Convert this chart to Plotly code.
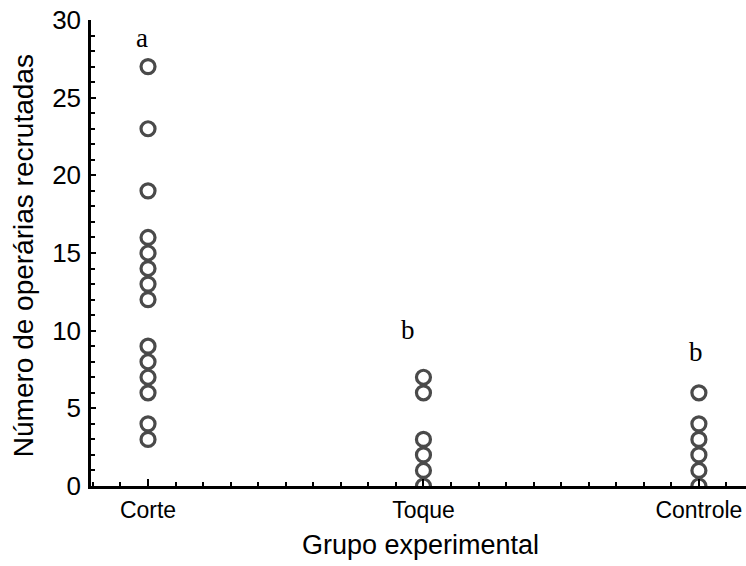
import plotly.graph_objects as go

# Data
categories = ["Corte", "Toque", "Controle"]
corte = [27, 23, 19, 16, 15, 14, 13, 12, 9, 8, 7, 6, 4, 3]
toque = [7, 6, 3, 2, 1, 0]
controle = [6, 4, 3, 2, 1, 0]
group_letters = ["a", "b", "b"]
letter_y = [28.85, 10.05, 8.6]
letter_x_offset = [-0.023, -0.056, -0.011]

y_tick_vals = [0, 5, 10, 15, 20, 25, 30]

series = [corte, toque, controle]

fig = go.Figure()
for i, vals in enumerate(series):
    fig.add_trace(go.Scatter(
        x=[i] * len(vals),
        y=vals,
        mode="markers",
        marker=dict(symbol="circle", size=14, color="white",
                    line=dict(color="#4a4a4a", width=3.2)),
        showlegend=False,
        hoverinfo="skip",
    ))

for i, (lt, ly, dx) in enumerate(zip(group_letters, letter_y, letter_x_offset)):
    fig.add_annotation(x=i + dx, y=ly, text=lt, showarrow=False,
                       xanchor="center", yanchor="middle",
                       font=dict(family="Liberation Serif", size=27, color="black"))

# Axis titles as annotations for exact placement
fig.add_annotation(xref="paper", yref="paper", x=0.5038, y=-0.127,
                   text="Grupo experimental", showarrow=False,
                   xanchor="center", yanchor="middle",
                   font=dict(family="Liberation Sans", size=27, color="black"))
fig.add_annotation(xref="paper", yref="paper", x=-0.104, y=0.495,
                   text="Número de operárias recrutadas", showarrow=False,
                   textangle=-90, xanchor="center", yanchor="middle",
                   font=dict(family="Liberation Sans", size=28, color="black"))

fig.update_layout(
    width=746, height=566,
    margin=dict(l=91, r=0, t=20, b=80),
    paper_bgcolor="white", plot_bgcolor="white",
    font=dict(family="Liberation Sans", color="black"),
)

fig.update_xaxes(
    range=[-0.207, 2.171],
    tickvals=[0, 1, 2], ticktext=categories,
    ticks="inside", ticklen=7, tickwidth=1.5, tickcolor="black",
    minor=dict(tick0=0, dtick=0.1, ticks="inside", ticklen=4, tickwidth=1.5, tickcolor="black"),
    showline=True, linecolor="black", linewidth=2.5,
    showgrid=False, zeroline=False,
    tickfont=dict(family="Liberation Sans", size=23, color="black"),
    ticklabelstandoff=2,
)
fig.update_yaxes(
    range=[0, 30],
    tickvals=y_tick_vals,
    ticks="inside", ticklen=5, tickwidth=1.5, tickcolor="black",
    minor=dict(tick0=0, dtick=1, ticks="inside", ticklen=4, tickwidth=1.5, tickcolor="black"),
    showline=True, linecolor="black", linewidth=2.5,
    showgrid=False, zeroline=False,
    tickfont=dict(family="Liberation Sans", size=26, color="black"),
    ticklabelstandoff=2,
)

fig.write_html("out.html", config={"displayModeBar": False},
               post_script="document.body.style.margin='0px';")
